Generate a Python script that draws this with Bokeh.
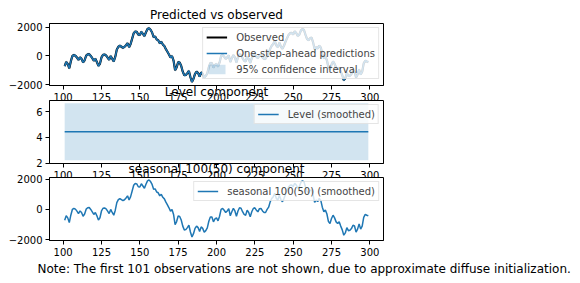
from bokeh.plotting import figure
from bokeh.layouts import column
from bokeh.models import Range1d, FixedTicker, Title
from bokeh.embed import file_html
from bokeh.resources import INLINE

# ---------------- data ----------------
time_index = list(range(101, 300))

observed = [
    -710, -420, -555, -865, -380, 0, 67, 22, -110, -270,
    -100, -200, -450, -300, 20, 110, 130, 0, -155, -330,
    -200, -420, -700, -550, -100, 80, 100, 40, -110, -270,
    0, -200, -380, -50, 450, 650, 720, 650, 580, 640,
    760, 900, 620, 845, 1220, 1600, 1720, 1690, 1500, 1480,
    1700, 1550, 1400, 1665, 1890, 1950, 1840, 1650, 1330, 1360,
    1150, 1100, 900, 1000, 800, 700, 480, 300, 110, -110,
    0, -330, -1000, -800, -430, -460, -700, -1100, -1350, -1330,
    -1200, -1045, -1490, -1820, -1600, -1250, -1100, -1200, -1450, -1150,
    -1250, -1500, -1400, -1220, -780, -490, -500, -820, -620, -555,
    -750, -450, 0, 67, -50, -200, -100, 50, -420, -150,
    67, -100, -450, -100, 110, 80, -150, -330, -380, -45,
    -200, -490, -155, 67, 110, -45, -155, 50, 67, -100,
    -200, -200, 0, 150, 500, 720, 845, 1065, 730, 620,
    940, 650, 510, 720, 1000, 1250, 1480, 1600, 1620, 1510,
    1730, 1620, 1400, 1500, 1780, 1890, 1840, 1500, 1200, 1100,
    1250, 1290, 955, 465, 620, 520, 730, 600, 150, -150,
    -45, -300, -800, -930, -600, -380, -555, -820, -930, -820,
    -1100, -1350, -1700, -1550, -1200, -1400, -1380, -1265, -1045, -1090,
    -1500, -1300, -950, -1300, -1100, -520, -330, -380, -420,
]
# one-step-ahead predictions and the smoothed seasonal overlap the observed
# series at this resolution
one_step_predictions = observed
seasonal_smoothed = observed
prediction_ci_half_width = 120

level_smoothed = 4.44
level_ci_lower = 2.25
level_ci_upper = 6.63

x_ticks = [100, 125, 150, 175, 200, 225, 250, 275, 300]
big_ticks = [-2000, 0, 2000]
big_tick_labels = {-2000: "\u22122000", 0: "0", 2000: "2000"}
level_ticks = [2, 4, 6]

note = ("Note: The first 101 observations are not shown, "
        "due to approximate diffuse initialization.")

# ---------------- styling helpers ----------------
FONT = "DejaVu Sans"
BLUE = "#1f77b4"


def make_fig(frame_h, y_lo, y_hi, bottom, title_text):
    p = figure(frame_width=334, frame_height=frame_h,
               x_range=Range1d(91.1, 308.9), y_range=Range1d(y_lo, y_hi),
               output_backend="svg", toolbar_location=None,
               min_border_left=49, min_border_right=197,
               min_border_top=23, min_border_bottom=bottom)
    p.border_fill_alpha = 0
    p.background_fill_color = "white"
    p.outline_line_color = "black"
    p.outline_line_width = 1
    p.outline_line_alpha = 1
    p.xgrid.visible = False
    p.ygrid.visible = False
    p.title.text = title_text
    p.title.align = "center"
    p.title.text_font = FONT
    p.title.text_font_size = "12px"
    p.title.text_font_style = "normal"
    p.title.text_color = "black"
    p.title.standoff = 3
    for ax in (p.xaxis, p.yaxis):
        ax.axis_line_color = "black"
        ax.major_tick_line_color = "black"
        ax.major_tick_in = 0
        ax.major_tick_out = 4
        ax.minor_tick_in = 0
        ax.minor_tick_out = 0
        ax.major_label_text_font = FONT
        ax.major_label_text_font_size = "10px"
        ax.major_label_text_color = "black"
        ax.major_label_standoff = 3
    p.xaxis.ticker = FixedTicker(ticks=x_ticks)
    return p


def style_legend(p):
    lg = p.legend[0]
    lg.location = "top_right"
    lg.margin = 4
    lg.padding = 3
    lg.spacing = 4
    lg.label_text_font = FONT
    lg.label_text_font_size = "10px"
    lg.label_height = 12
    lg.glyph_height = 12
    lg.glyph_width = 21
    lg.label_standoff = 9
    lg.border_line_color = "#cccccc"
    lg.border_line_width = 1
    lg.background_fill_alpha = 0.8


# ---------------- panel 1: predicted vs observed ----------------
p1 = make_fig(62, -2070, 2280, 25, "Predicted vs observed")
p1.border_fill_alpha = 1
p1.border_fill_color = "white"
p1.yaxis.ticker = FixedTicker(ticks=big_ticks)
p1.yaxis.major_label_overrides = big_tick_labels
ci_lower = [v - prediction_ci_half_width for v in one_step_predictions]
ci_upper = [v + prediction_ci_half_width for v in one_step_predictions]
p1.line(time_index, observed, line_color="black", line_width=2.2,
        legend_label="Observed")
p1.line(time_index, one_step_predictions, line_color=BLUE, line_width=1.5,
        legend_label="One-step-ahead predictions")
p1.varea(x=time_index, y1=ci_lower, y2=ci_upper, fill_color=BLUE,
         fill_alpha=0.2, legend_label="95% confidence interval")
style_legend(p1)

# ---------------- panel 2: level component ----------------
p2 = make_fig(63, 1.995, 6.85, 25, "Level component")
p2.margin = (-33, 0, 0, 0)
p2.yaxis.ticker = FixedTicker(ticks=level_ticks)
p2.line(time_index, [level_smoothed] * len(time_index), line_color=BLUE,
        line_width=1.5, legend_label="Level (smoothed)")
p2.varea(x=time_index, y1=[level_ci_lower] * len(time_index),
         y2=[level_ci_upper] * len(time_index), fill_color=BLUE,
         fill_alpha=0.2)
style_legend(p2)

# ---------------- panel 3: seasonal component ----------------
p3 = make_fig(63, -2050, 2110, 43, "seasonal 100(50) component")
p3.margin = (-34, 0, 0, 0)
p3.yaxis.ticker = FixedTicker(ticks=big_ticks)
p3.yaxis.major_label_overrides = big_tick_labels
p3.line(time_index, seasonal_smoothed, line_color=BLUE, line_width=1.5,
        legend_label="seasonal 100(50) (smoothed)")
style_legend(p3)
p3.add_layout(Title(text=note, align="left", offset=-12, standoff=2,
                    text_font=FONT, text_font_size="12px",
                    text_font_style="normal", text_color="black"), "below")

layout = column(p1, p2, p3, spacing=0)

open("out.html", "w").write(file_html(layout, INLINE))
